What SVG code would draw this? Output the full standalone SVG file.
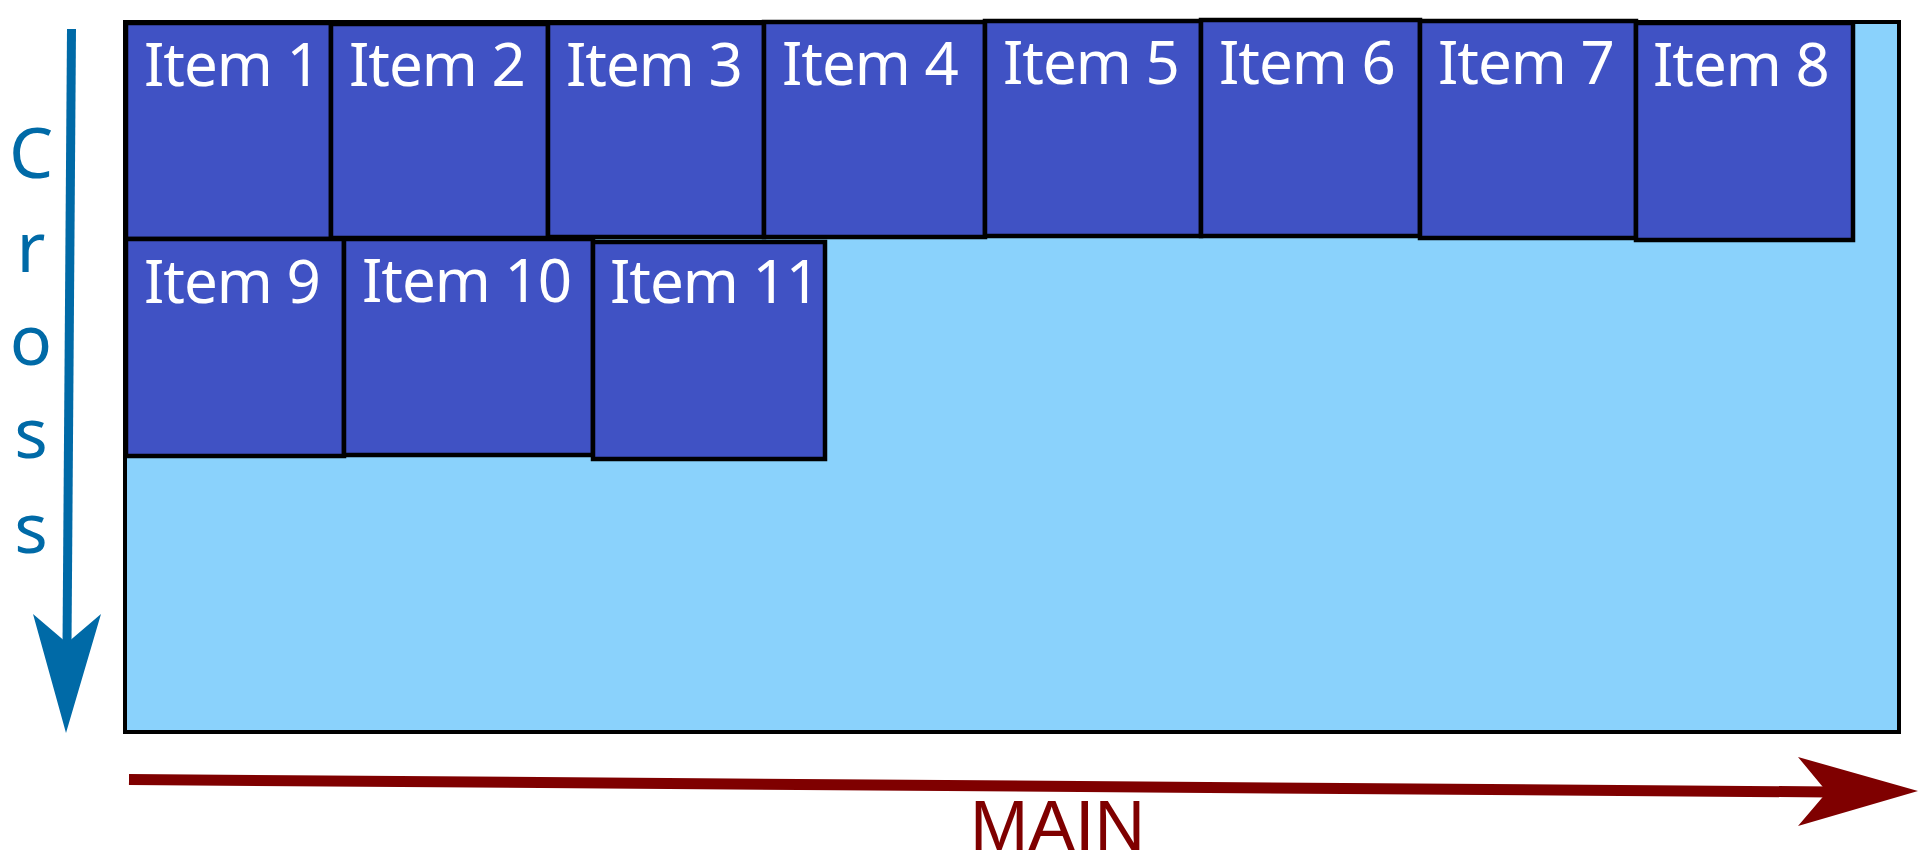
<svg xmlns="http://www.w3.org/2000/svg" width="1920" height="862" viewBox="0 0 1920 862">
  <style>
    .container { fill: #8AD2FC; stroke: #000; stroke-width: 4; }
    .item rect { fill: #4052C4; stroke: #000; stroke-width: 4.5; }
    .item text { fill: #FFFFFF; font-family: "Noto Sans", "Open Sans", sans-serif; font-size: 60px; letter-spacing: -1px; }
    .cross { fill: #006AA7; font-family: "Noto Sans", "Open Sans", sans-serif; font-size: 70px; text-anchor: middle; }
    .main { fill: #7F0000; font-family: "Liberation Sans", Arial, sans-serif; font-size: 70px; }
  </style>
  <rect width="1920" height="862" fill="#FFFFFF"/>

  <g id="container">
    <rect class="container" x="125" y="22" width="1774" height="710"/>
  </g>

  <g id="item1" class="item"><rect x="126" y="23" width="205" height="216"/><text x="144" y="86">Item 1</text></g>
  <g id="item2" class="item"><rect x="331" y="24" width="217" height="214"/><text x="349" y="86">Item 2</text></g>
  <g id="item3" class="item"><rect x="548" y="23" width="216" height="214"/><text x="566" y="86">Item 3</text></g>
  <g id="item4" class="item"><rect x="764" y="22" width="221" height="215"/><text x="782" y="85">Item 4</text></g>
  <g id="item5" class="item"><rect x="985" y="21" width="216" height="215"/><text x="1003" y="84">Item 5</text></g>
  <g id="item6" class="item"><rect x="1201" y="20" width="219" height="216"/><text x="1219" y="84">Item 6</text></g>
  <g id="item7" class="item"><rect x="1420" y="21" width="216" height="217"/><text x="1438" y="84">Item 7</text></g>
  <g id="item8" class="item"><rect x="1636" y="23" width="217" height="217"/><text x="1653" y="86">Item 8</text></g>
  <g id="item9" class="item"><rect x="126" y="239" width="218" height="217"/><text x="144" y="303">Item 9</text></g>
  <g id="item10" class="item"><rect x="344" y="239" width="249" height="216"/><text x="362" y="302">Item 10</text></g>
  <g id="item11" class="item"><rect x="593" y="242" width="232" height="217"/><text x="610" y="303">Item 11</text></g>

  <g id="connectors">
    <g id="cross-axis">
      <line x1="71.5" y1="29" x2="67" y2="645" stroke="#006AA7" stroke-width="9"/>
      <polygon points="33,614 67,643 101,614 66,733" fill="#006AA7"/>
    </g>
    <g id="main-axis">
      <line x1="129" y1="779.5" x2="1830" y2="792" stroke="#7F0000" stroke-width="11"/>
      <polygon points="1798,757 1918,791 1798,826 1827,792" fill="#7F0000"/>
    </g>
  </g>

  <g id="labels">
    <text class="cross" x="31" y="178">C</text>
    <text class="cross" x="31" y="272">r</text>
    <text class="cross" x="31" y="365">o</text>
    <text class="cross" x="31" y="458">s</text>
    <text class="cross" x="31" y="553">s</text>
    <text class="main" x="970" y="850">MAIN</text>
  </g>
</svg>
